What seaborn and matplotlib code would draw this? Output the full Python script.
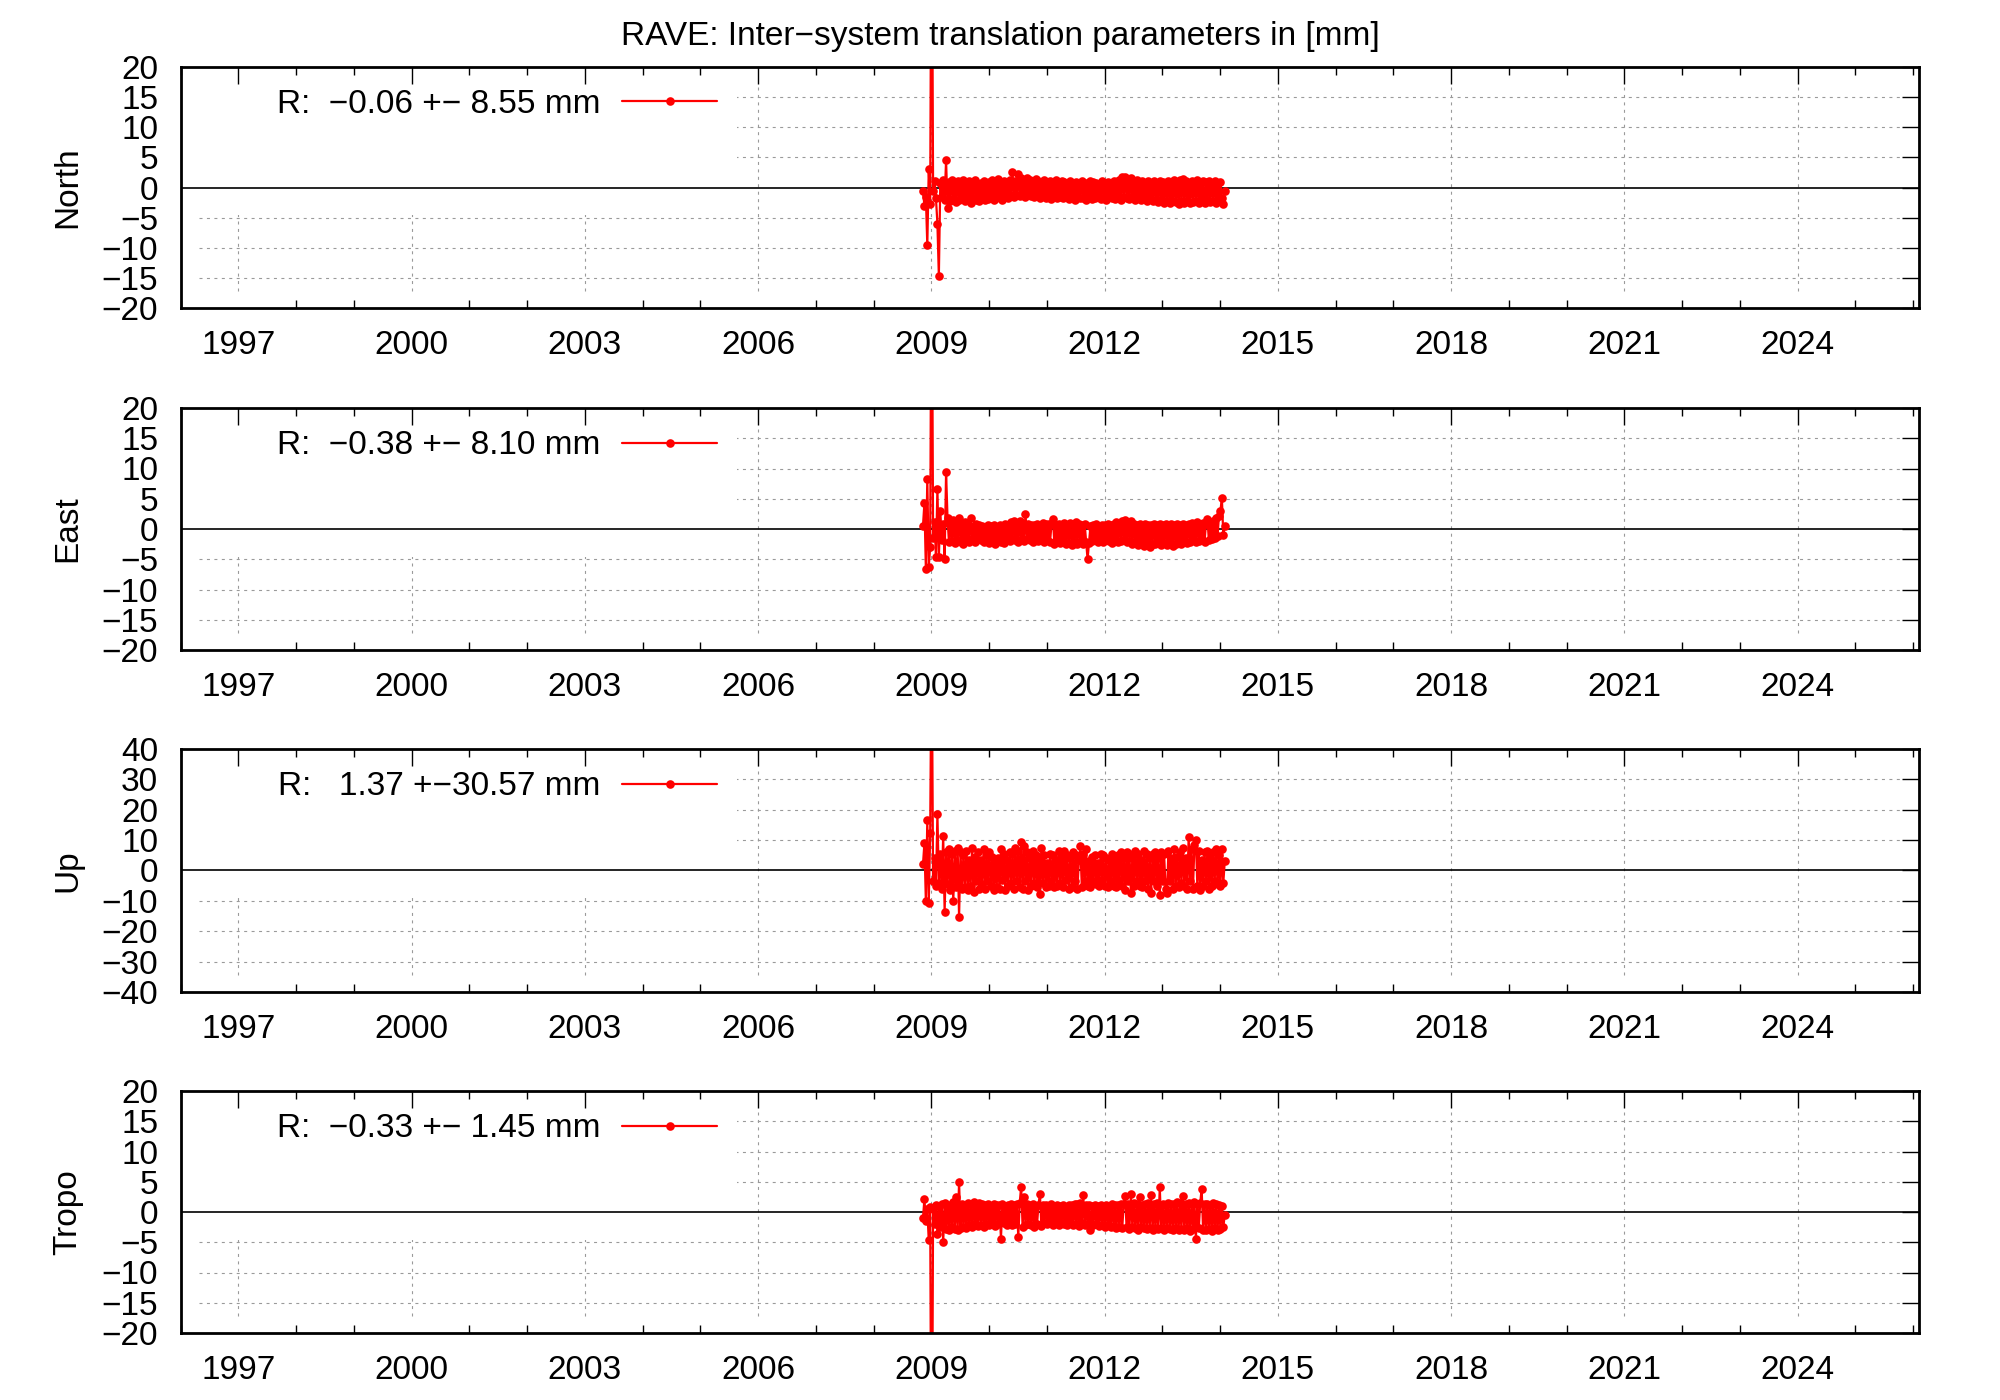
import matplotlib
matplotlib.use('Agg')  # no display

import numpy as np
import pandas as pd
import matplotlib.pyplot as plt
import seaborn as sns
from matplotlib.patches import Rectangle
from matplotlib.ticker import MultipleLocator

# --- data (decimal years, mm) ---
first_epoch = 2008.855
epoch_step = 0.025

north_mm = [
    -0.5, -3.0, -1.5, -9.6, 3.0, -2.8, 60.0, -0.6, 1.0, -1.8,
    -6.0, -14.7, 0.8, -1.5, 1.2, -2.0, 4.5, -3.4, 0.9, -2.2,
    1.3, -1.9, 0.6, -2.4, 1.1, -2.1, 0.7, -1.6, 1.2, -2.3,
    0.9, -1.8, 1.0, -2.5, 0.5, -1.7, 1.3, -2.0, 0.4, -2.2,
    0.8, -1.5, 1.1, -2.1, 0.6, -1.9, 0.9, -1.4, 1.2, -2.0,
    0.7, -1.6, 1.4, -1.8, 0.5, -2.1, 1.0, -1.5, 0.8, -1.7,
    1.2, -1.3, 2.5, -1.6, 1.0, -1.2, 2.2, -1.4, 1.5, -1.0,
    1.3, -1.5, 1.6, -1.1, 1.2, -1.4, 1.0, -1.6, 1.4, -1.2,
    1.1, -1.7, 0.9, -1.4, 1.3, -1.8, 0.7, -1.5, 1.0, -1.9,
    0.8, -1.3, 1.2, -1.7, 0.6, -1.6, 1.0, -1.8, 0.9, -1.5,
    0.7, -1.9, 1.1, -1.6, 0.8, -2.0, 0.9, -1.5, 0.6, -1.8,
    1.0, -1.7, 0.8, -2.1, 0.7, -1.6, 1.0, -1.9, 0.9, -1.8,
    0.8, -1.6, 0.6, -1.9, 1.0, -1.7, 0.7, -2.0, 0.9, -1.5,
    0.8, -1.8, 1.1, -1.9, 0.7, -1.6, 1.2, -2.0, 1.7, -1.5,
    1.8, -1.7, 1.3, -1.9, 1.6, -1.6, 1.0, -2.0, 1.2, -1.8,
    0.9, -2.1, 1.1, -1.7, 0.8, -2.2, 1.0, -1.9, 0.7, -2.3,
    1.0, -2.0, 0.8, -2.4, 1.1, -2.1, 0.9, -2.5, 0.7, -2.2,
    1.0, -2.6, 0.8, -2.3, 1.2, -2.4, 0.9, -2.7, 1.3, -2.2,
    1.4, -2.5, 1.0, -2.3, 0.8, -2.6, 1.1, -2.4, 0.9, -2.2,
    1.2, -2.5, 0.7, -2.3, 1.0, -2.6, 0.9, -2.1, 1.1, -2.4,
    0.8, -2.2, 1.0, -2.5, 0.7, -2.0, 0.9, -1.8, -2.7, -0.5,
]

east_mm = [
    0.5, 4.3, -6.6, 8.3, -6.2, -3.0, 55.0, -1.5, 1.2, -4.6,
    6.6, -4.7, 3.0, -1.8, 0.9, -4.9, 9.4, 1.8, -2.2, 1.0,
    -2.0, 1.5, -2.3, 0.8, -1.9, 1.8, -2.1, 0.6, -2.4, 1.2,
    -1.8, 0.7, -2.2, 1.9, -1.6, 0.5, -2.1, 0.8, -1.7, 0.6,
    -1.9, 0.5, -2.2, 0.4, -1.8, 0.6, -2.3, 0.5, -2.0, 0.7,
    -2.4, 0.4, -1.9, 0.6, -2.1, 0.5, -2.3, 0.8, -1.8, 0.6,
    -2.0, 1.1, -1.7, 1.4, -1.9, 1.0, -2.1, 1.3, -1.8, 0.9,
    -2.0, 2.5, -1.6, 0.8, -1.9, 0.7, -2.2, 0.6, -1.8, 0.9,
    -2.0, 0.7, -1.7, 1.0, -2.1, 0.8, -1.9, 0.9, -2.2, 0.8,
    1.6, -2.4, 0.7, -2.0, 0.8, -2.3, 0.6, -1.9, 1.0, -2.5,
    0.7, -2.3, 1.0, -2.6, 0.8, -2.2, 1.2, -2.4, 0.9, -2.1,
    0.6, -2.5, 0.8, -2.1, -5.0, -2.3, 0.5, -2.0, 0.6, -1.9,
    0.8, -2.1, 0.5, -1.8, 0.7, -2.2, 0.6, -1.9, 0.9, -2.0,
    0.7, -2.3, 0.8, -1.8, 1.1, -2.1, 0.9, -2.0, 1.3, -1.9,
    1.5, -2.2, 1.2, -2.0, 1.4, -2.4, 0.8, -2.1, 0.7, -2.6,
    0.9, -2.2, 0.6, -2.8, 0.8, -2.3, 0.7, -2.9, 0.6, -2.4,
    0.8, -2.5, 0.7, -2.2, 0.9, -2.7, 0.6, -2.3, 0.8, -2.6,
    0.7, -2.1, 0.9, -2.8, 0.6, -2.4, 0.8, -2.2, 0.7, -2.5,
    0.9, -2.0, 0.7, -2.3, 0.8, -2.1, 1.0, -1.9, 0.9, -2.2,
    1.1, -2.0, 0.8, -1.8, 1.0, -2.1, 0.9, 1.7, -1.9, 1.2,
    -1.7, 1.3, -1.5, 1.8, -1.2, 2.2, 3.0, 5.1, -1.0, 0.5,
]

up_mm = [
    2.0, 9.0, -10.2, 16.5, -10.7, 12.5, 80.0, -3.5, 4.0, -5.0,
    18.6, -4.0, 5.5, -6.0, 11.5, -13.5, 6.0, -4.5, 7.0, -6.5,
    5.5, -10.0, 6.5, -5.5, 7.5, -15.3, 6.0, -6.0, 5.0, -5.5,
    6.5, -6.5, 3.5, -5.0, 7.5, -7.0, 4.5, -3.5, 6.0, -6.0,
    3.5, -4.5, 7.0, -6.0, 5.0, -3.5, 6.0, -5.0, 4.5, -6.5,
    2.5, -5.5, 4.0, -6.0, 7.0, -3.0, 5.5, -6.5, 3.5, -5.0,
    6.0, -4.0, 5.5, -6.0, 7.5, -3.5, 6.5, -5.5, 9.5, -6.0,
    8.0, -3.5, 6.0, -6.5, 4.0, -5.0, 6.5, -4.0, 5.0, -5.5,
    3.5, -7.6, 7.5, -4.0, 5.0, -5.5, 2.5, -5.0, 5.5, -3.5,
    5.0, -5.5, 3.5, -5.0, 6.5, -4.0, 4.5, -5.5, 6.5, -3.0,
    5.0, -6.0, 4.0, -5.5, 6.0, -3.5, 5.0, -6.0, 3.5, 8.0,
    -5.5, 5.5, -3.5, 7.0, -5.0, 3.0, -5.5, 4.5, -3.5, 5.0,
    -4.5, 2.5, -5.0, 5.5, -3.0, 5.0, -5.0, 4.0, -5.5, 3.5,
    -3.5, 5.5, -5.0, 3.5, -5.5, 5.0, -3.0, 6.0, -5.0, 4.0,
    -6.5, 6.0, -3.5, 5.5, -7.5, 4.0, -5.0, 6.5, -3.5, 5.5,
    -5.0, 3.5, -5.5, 6.5, -3.5, 5.5, -6.0, 4.0, -7.3, 5.5,
    -3.5, 6.0, -5.0, 4.0, -8.2, 6.0, -3.5, 5.5, -6.0, -7.5,
    6.5, -3.5, 4.0, -6.0, 7.0, -5.0, 4.5, -5.5, 6.0, -4.0,
    7.5, -5.0, 4.0, -6.0, 11.0, -3.5, 7.0, -6.0, 8.5, 10.0,
    -5.0, 6.5, -6.5, 3.5, -5.0, 6.0, -3.5, 6.5, -6.0, 4.0,
    -5.0, 6.0, -3.5, 7.0, -4.5, 5.0, -5.0, 7.2, -4.0, 3.0,
]

tropo_mm = [
    -1.0, 2.1, -1.5, 0.5, -4.7, 0.8, -60.0, 0.5, -2.0, 1.2,
    -3.6, 1.0, -2.5, 1.3, -5.0, 1.5, -2.8, 0.9, -3.0, 1.2,
    -2.5, 1.6, -2.8, 2.5, -3.0, 4.9, -2.6, 1.4, -2.4, 1.2,
    -2.7, 1.5, -2.2, 1.3, -2.5, 1.6, -2.0, 1.1, -2.3, 1.5,
    -2.1, 1.4, -2.4, 1.2, -2.0, 1.3, -2.2, 1.0, -1.9, 1.4,
    -2.3, 1.2, -2.0, 1.1, -4.4, 1.3, -1.8, 1.0, -2.1, 1.2,
    -1.9, 1.3, -2.2, 1.1, -2.0, 1.4, -4.1, 1.5, 4.2, -2.4,
    2.5, -2.2, 1.4, -2.0, 1.2, -2.1, 1.3, -2.4, 1.0, -2.0,
    1.2, 3.0, -2.3, 1.1, -1.8, 1.2, -2.0, 1.0, -1.7, 1.3,
    -2.1, 0.9, -1.9, 1.1, -2.2, 1.0, -1.8, 1.2, -2.0, 0.9,
    -2.2, 1.1, -1.9, 1.2, -2.1, 1.4, -2.0, 1.3, -2.3, 1.5,
    -1.9, 2.8, -2.2, 1.2, -2.0, 1.1, -3.0, 1.0, -2.1, 1.2,
    -2.0, 1.0, -2.3, 1.1, -2.1, 0.9, -2.4, 1.2, -2.2, 1.0,
    -2.5, 1.3, -2.3, 1.1, -2.6, 1.2, -2.4, 1.4, -2.7, 1.3,
    2.7, -2.5, 1.4, -2.8, 3.0, -2.4, 1.5, -2.6, 1.3, -2.9,
    2.5, -2.5, 1.2, -2.7, 1.4, -2.8, 1.5, -2.6, 2.8, -2.9,
    1.3, -2.6, 1.5, -2.8, 4.1, -2.7, 1.4, -3.0, 1.2, -2.6,
    1.5, -2.8, 1.3, -2.9, 1.4, -2.7, 1.6, -3.0, 1.5, -2.8,
    2.7, -2.9, 1.4, -2.7, 1.5, -3.1, 1.3, -2.8, 1.6, -4.5,
    1.4, -2.7, 1.5, 3.8, -2.9, 1.3, -3.0, 1.4, -2.8, 1.2,
    -3.1, 1.5, -2.7, 1.3, -3.0, 1.2, -2.8, 1.0, -2.5, -0.5,
]

panel_names = ["North", "East", "Up", "Tropo"]
panel_values = [north_mm, east_mm, up_mm, tropo_mm]
legend_labels = [
    "R:  \u22120.06 +\u2212 8.55 mm",
    "R:  \u22120.38 +\u2212 8.10 mm",
    "R:   1.37 +\u221230.57 mm",
    "R:  \u22120.33 +\u2212 1.45 mm",
]
y_limits = [20, 20, 40, 20]
y_steps = [5, 5, 10, 5]
year_ticks = list(range(1997, 2025, 3))
title = "RAVE: Inter\u2212system translation parameters in [mm]"

# --- style ---
sns.set_style("white")
plt.rcParams["font.family"] = ["Liberation Sans", "DejaVu Sans"]
plt.rcParams["font.size"] = 24
for key in ["text.color", "axes.labelcolor", "xtick.color", "ytick.color"]:
    plt.rcParams[key] = "black"

FS = 24

fig = plt.figure(figsize=(20, 14), dpi=100)

# axes boxes in figure pixels (top, bottom) of 2000x1400
panel_px = [(67, 308), (408, 650), (749, 992), (1091, 1333)]
left_px, right_px = 180.5, 1919
W, H = 2000.0, 1400.0

grid_kw = dict(color="#9a9a9a", linewidth=0.8, dashes=(2.7, 4), zorder=0.2)

for i, (name, vals) in enumerate(zip(panel_names, panel_values)):
    top, bot = panel_px[i]
    ax = fig.add_axes([left_px / W, 1 - bot / H, (right_px - left_px) / W, (bot - top) / H])

    df = pd.DataFrame({
        "year": first_epoch + epoch_step * np.arange(len(vals)),
        "value": vals,
    })
    sns.lineplot(data=df, x="year", y="value", ax=ax, color="red",
                 marker="o", markersize=6.2, markeredgewidth=0,
                 linewidth=1.6, estimator=None, sort=False,
                 label=legend_labels[i], zorder=2)

    lim = y_limits[i]
    step = y_steps[i]
    ax.set_xlim(1996.0, 2026.1)
    ax.set_ylim(-lim, lim)
    ax.set_xticks(year_ticks)
    ax.xaxis.set_minor_locator(MultipleLocator(1))
    ax.set_yticks(np.arange(-lim, lim + 1, step))

    # gnuplot-like dashed grid that stops at the tick marks
    tick_fx = 18 / (right_px - left_px)
    tick_fy = 17 / (bot - top)
    for yv in np.arange(-lim + step, lim, step):
        if yv != 0:
            ax.axhline(yv, xmin=tick_fx, xmax=1 - tick_fx, **grid_kw)
    for xv in year_ticks:
        ax.axvline(xv, ymin=tick_fy, ymax=1 - tick_fy, **grid_kw)
    ax.axhline(0, color="black", linewidth=1.2, zorder=1.5)

    # key area is blanked like gnuplot's opaque key
    ax.add_patch(Rectangle((0, 0.385), 0.32, 0.615, transform=ax.transAxes,
                           facecolor="white", edgecolor="none", zorder=0.3))
    ax.set_axisbelow(True)

    ax.tick_params(axis="both", which="major", direction="in", length=12.5,
                   width=1.0, top=True, right=True, labelsize=FS, color="black")
    ax.tick_params(axis="x", which="major", pad=16)
    ax.tick_params(axis="y", which="major", pad=16)
    ax.tick_params(axis="x", which="minor", direction="in", length=5.5,
                   width=1.0, top=True, bottom=True)
    for sp in ax.spines.values():
        sp.set_linewidth(2.0)
        sp.set_color("black")
        sp.set_zorder(3)

    ax.set_xlabel("")
    ax.set_ylabel(name, fontsize=FS)
    ax.yaxis.set_label_coords(-0.056, 0.5)

    ax.legend(loc="center right", bbox_to_anchor=(0.3086, 0.844),
              frameon=False, borderpad=0, borderaxespad=0,
              handlelength=2.85, handletextpad=0.65, markerfirst=False,
              numpoints=1, fontsize=FS)

fig.text(0.5, 1 - 37 / H, title, ha="center", va="center", fontsize=FS)

fig.savefig("out.png", dpi=100, facecolor="white")
